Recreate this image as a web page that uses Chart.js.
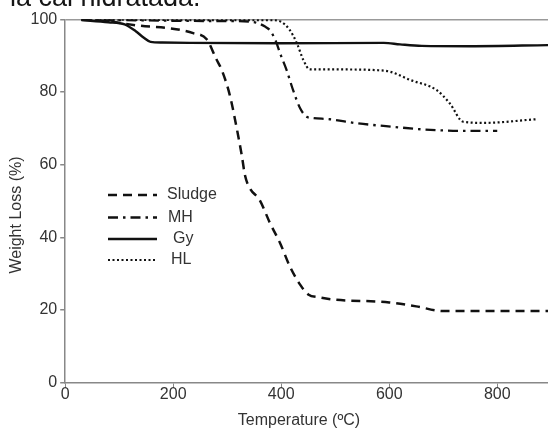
<!DOCTYPE html>
<html><head><meta charset="utf-8">
<script src="https://cdn.jsdelivr.net/npm/chart.js@4"></script>
<style>html,body{margin:0;padding:0;background:#fff}#wrap{width:548px;height:430px;position:relative}</style>
</head><body><div id="wrap"><canvas id="c" width="548" height="430"></canvas></div>
<script>
const headerText = 'la cal hidratada.';
const xTitle = 'Temperature (ºC)';
const yTitle = 'Weight Loss (%)';
const seriesNames = ['Sludge', 'MH', 'Gy', 'HL'];
const xTicks = [0, 200, 400, 600, 800];
const yTicks = [0, 20, 40, 60, 80, 100];

const sludgeT = [30, 80, 110, 140, 195, 237, 262, 280, 290, 305, 317, 327, 333, 342, 360, 379, 398, 416, 435, 450, 470, 495, 600, 650, 700, 894];
const sludgeW = [99.9, 99.5, 98.8, 98.2, 97.5, 96.2, 94.5, 89, 86, 79, 70.5, 62.5, 57, 53.5, 50.3, 44, 38.4, 32, 27, 24.3, 23.5, 22.9, 22.1, 21, 19.7, 19.7];

const mhT = [30, 100, 200, 300, 340, 355, 370, 379, 390, 398, 410, 422, 435, 447, 460, 490, 540, 608, 663, 737, 800];
const mhW = [100, 99.8, 99.6, 99.5, 99.4, 99, 98, 97, 94, 90.6, 86, 80.5, 75.5, 73.2, 72.8, 72.5, 71.4, 70.4, 69.7, 69.3, 69.3];

const gyT = [30, 80, 110, 130, 145, 158, 180, 230, 400, 590, 620, 660, 750, 894];
const gyW = [99.8, 99.2, 98.6, 96.8, 95, 93.8, 93.6, 93.5, 93.4, 93.5, 93.1, 92.7, 92.6, 92.9];

const hlT = [30, 200, 300, 380, 400, 416, 429, 441, 453, 503, 577, 601, 639, 688, 712, 737, 774, 873];
const hlW = [100, 99.8, 99.8, 99.8, 99.3, 97, 93.4, 88.8, 86.2, 86.2, 86, 85.6, 83.3, 80.5, 76.9, 71.8, 71.5, 72.5];

const pts = (t, w) => t.map((x, i) => ({x: x, y: w[i]}));
const dashes = [[9, 6], [10, 5, 2.5, 5], [], [2, 2.5]];
const widths = [2.5, 2.3, 2.4, 2.2];
const allData = [pts(sludgeT, sludgeW), pts(mhT, mhW), pts(gyT, gyW), pts(hlT, hlW)];

const FONT = '"Liberation Sans", Arial, sans-serif';

const deco = {
  id: 'deco',
  afterDraw(chart) {
    const ctx = chart.ctx;
    ctx.save();
    ctx.fillStyle = '#151515';
    ctx.font = '27px ' + FONT;
    ctx.textAlign = 'left';
    ctx.textBaseline = 'alphabetic';
    ctx.fillText(headerText, 10, 6);

    ctx.fillStyle = '#333';
    ctx.font = '16px ' + FONT;
    ctx.textAlign = 'center';
    ctx.textBaseline = 'middle';
    ctx.fillText(xTitle, 299, 421);
    ctx.save();
    ctx.translate(17, 215);
    ctx.rotate(-Math.PI / 2);
    ctx.fillText(yTitle, 0, 0);
    ctx.restore();

    // legend
    const rowsY = [195, 217.5, 239, 260];
    const textX = [167, 168, 173, 171];
    ctx.textAlign = 'left';
    chart.data.datasets.forEach((ds, i) => {
      const y = rowsY[i];
      ctx.save();
      ctx.strokeStyle = '#111';
      ctx.lineWidth = ds.borderWidth;
      ctx.setLineDash(ds.borderDash || []);
      ctx.beginPath();
      ctx.moveTo(108, y);
      ctx.lineTo(157, y);
      ctx.stroke();
      ctx.restore();
      ctx.fillStyle = '#333';
      ctx.fillText(ds.label, textX[i], y);
    });
    ctx.restore();
  }
};

new Chart(document.getElementById('c'), {
  type: 'line',
  data: {
    datasets: seriesNames.map((n, i) => ({
      label: n,
      data: allData[i],
      borderColor: '#111',
      borderWidth: widths[i],
      borderDash: dashes[i],
      pointRadius: 0,
      fill: false,
      cubicInterpolationMode: 'monotone',
      borderCapStyle: 'butt'
    }))
  },
  options: {
    responsive: false,
    animation: false,
    devicePixelRatio: 1,
    layout: {padding: {top: 19.3, right: 0, left: 0, bottom: 0}},
    plugins: {legend: {display: false}, tooltip: {enabled: false}, title: {display: false}},
    scales: {
      x: {
        type: 'linear',
        min: 0, max: 894,
        afterBuildTicks: s => { s.ticks = xTicks.map(v => ({value: v})); },
        afterFit: s => { s.height = 47.3; },
        ticks: {color: '#333', font: {size: 16, family: FONT}, padding: -3, maxRotation: 0, autoSkip: false},
        grid: {drawOnChartArea: false, tickLength: 5, tickColor: '#888', color: '#888'},
        border: {color: '#888', width: 1.5}
      },
      y: {
        min: 0, max: 100,
        afterBuildTicks: s => { s.ticks = yTicks.map(v => ({value: v})); },
        afterFit: s => { s.width = 65.2; },
        ticks: {color: '#333', font: {size: 16, family: FONT}, padding: 3},
        grid: {
          drawOnChartArea: true, tickLength: 5, tickColor: '#888',
          color: c => (c.tick && c.tick.value === 100) ? '#999' : 'rgba(0,0,0,0)',
          lineWidth: 1.5
        },
        border: {color: '#888', width: 1.5}
      }
    }
  },
  plugins: [deco]
});
</script>
</body></html>
